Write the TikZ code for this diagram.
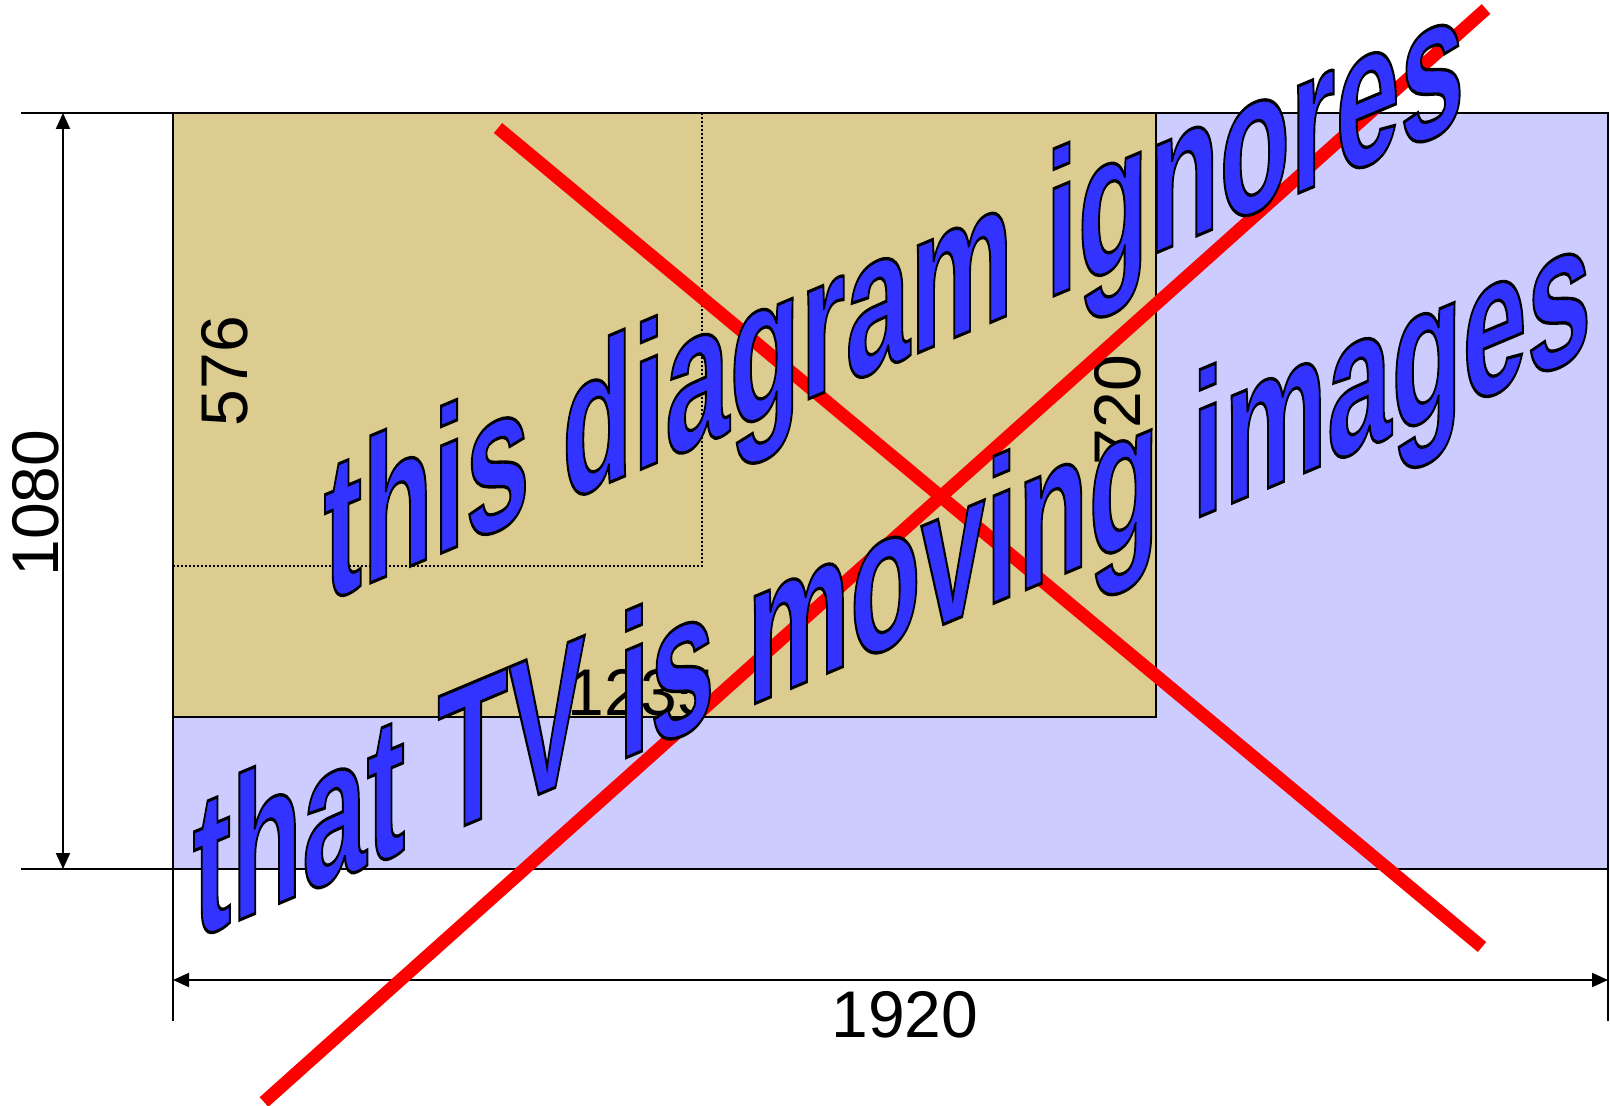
\documentclass[tikz,border=0pt]{standalone}
\usepackage{fontspec}
\setmainfont{Liberation Sans}
\newfontfamily\wafont[FakeBold=1.6]{Liberation Sans Bold}
\usetikzlibrary{arrows.meta}
\definecolor{lav}{RGB}{204,204,255}
\definecolor{tanbox}{RGB}{221,204,143}
\definecolor{wablue}{RGB}{51,51,255}
\begin{document}
\begin{tikzpicture}[x=0.5pt,y=0.5pt,
  thinline/.style={line width=0.8pt},
  dimarrow/.style={line width=1pt,{Triangle[length=8pt,width=7pt]}-{Triangle[length=8pt,width=7pt]}},
  lbl/.style={font=\fontsize{33}{36}\selectfont, inner sep=0},
  cross/.style={red, line width=6.5pt},
  wa/.style={font=\fontsize{58}{60}\selectfont\wafont, inner sep=0, anchor=base, transform shape, text=wablue}]
\newcommand\waline[4]{%
  \begin{scope}[shift={(#1,#2)}, cm={1,0.42,0,1.75,(0,0)}]
    \node[wa] (#3) at (0,0) {\special{pdf:literal 0 0 0 RG}#4};
  \end{scope}}
\useasboundingbox (0,0) rectangle (1610,-1106);
% areas
\filldraw[fill=lav, thinline] (173,-113) rectangle (1608,-869);
\filldraw[fill=tanbox, thinline] (173,-113) rectangle (1156,-717);
\draw[line width=1pt, dash pattern=on 1pt off 1pt] (173,-566) -- (702,-566) -- (702,-113);
% extension lines
\coordinate (tl) at (21,-113);
\coordinate (tr) at (1608,-113);
\coordinate (bl) at (21,-869);
\coordinate (br) at (1608,-869);
\coordinate (lv1) at (173,-113);
\coordinate (lv2) at (173,-1021);
\coordinate (rv2) at (1608,-1021);
\draw[thinline] (tl) -- (tr);
\draw[thinline] (bl) -- (br);
\draw[thinline] (lv1) -- (lv2);
\draw[thinline] (tr) -- (rv2);
% dimension arrows
\coordinate (va1) at (63,-113);
\coordinate (va2) at (63,-869);
\coordinate (ha1) at (173,-980);
\coordinate (ha2) at (1608,-980);
\draw[dimarrow] (va1) -- (va2);
\draw[dimarrow] (ha1) -- (ha2);
% labels
\node[lbl, rotate=90] (l1080) at (36,-503) {1080};
\node[lbl, rotate=90] (l576) at (225,-371) {576};
\node[lbl, rotate=90] (l720) at (1118,-410) {720};
\node[lbl] (l1235) at (641,-693) {1235};
\node[lbl] (l1920) at (905,-1015) {1920};
% red cross
\coordinate (a1) at (498,-128);
\coordinate (a2) at (1482,-947);
\coordinate (b1) at (264,-1102);
\coordinate (b2) at (1486,-9);
\draw[cross] (a1) -- (a2);
\draw[cross] (b1) -- (b2);
% word art
\waline{894}{-363}{t1}{this diagram ignores}
\waline{892}{-646}{t2}{that TV is moving images}
\end{tikzpicture}
\end{document}
